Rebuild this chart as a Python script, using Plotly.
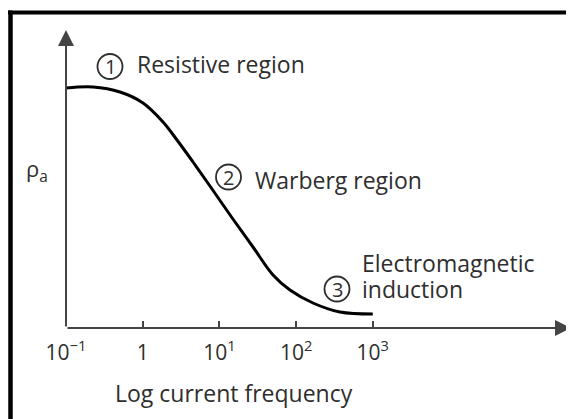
import plotly.graph_objects as go

# ---- data ----
freq = [0.1, 0.225, 0.506, 1.01, 1.84, 2.8, 4.53, 7.53, 15.0, 27.4, 50.0, 83.2, 166, 373, 1000]
rho_a = [240, 241, 236, 225, 206, 188, 166, 142, 109, 81, 53, 38, 25, 16, 14]

tick_vals = [0.1, 1, 10, 100, 1000]
tick_text = ["10<sup>\u22121</sup>", "1", "10<sup>1</sup>", "10<sup>2</sup>", "10<sup>3</sup>"]

x_title = "Log current frequency"
y_title = "\u03c1<sub>a</sub>"
region_digits = ["1", "2", "3"]
region_lines = [["Resistive region"], ["Warberg region"], ["Electromagnetic", "induction"]]

FONT = "Open Sans, Noto Sans, sans-serif"
TXT = "#2e2e2e"
AX = "#444444"

# page body has an 8px margin; positions below are given in reference-image pixels
OFF = 8
W, H = 574 - OFF, 419 - OFF
L, T = 66 - OFF, 30 - OFF
PLOT_R, PLOT_B = 571 - OFF, 328 - OFF
R, B = W - PLOT_R, H - PLOT_B
PW, PH = PLOT_R - L, PLOT_B - T
XMAX_LOG = 5.584
YMAX = 298


def px(x):
    return (x - OFF - L) / PW


def py(y):
    return (PLOT_B - (y - OFF)) / PH


fig = go.Figure()
fig.add_trace(go.Scatter(
    x=freq, y=rho_a, mode="lines",
    line=dict(color="black", width=3, shape="spline", smoothing=1.0),
    hoverinfo="skip", showlegend=False,
))

fig.update_layout(
    width=W, height=H,
    margin=dict(l=L, r=R, t=T, b=B, pad=0),
    paper_bgcolor="white", plot_bgcolor="white",
    showlegend=False,
    font=dict(family=FONT, color=TXT, size=18),
    xaxis=dict(
        type="log", range=[-1, XMAX_LOG],
        tickvals=tick_vals, ticktext=tick_text,
        ticks="inside", ticklen=7, tickwidth=1.5, tickcolor=AX,
        showline=False, showgrid=False, zeroline=False,
        tickfont=dict(size=21, color=TXT, family=FONT),
        ticklabelstandoff=10,
    ),
    yaxis=dict(
        range=[0, YMAX], showticklabels=False, ticks="",
        showline=False, showgrid=False, zeroline=False,
    ),
)

annotations = []
# axes with arrow heads
annotations.append(dict(x=XMAX_LOG, y=0, xref="x", yref="y", ax=-PW, ay=0,
                        showarrow=True, arrowhead=2, arrowsize=1.6, arrowwidth=2,
                        arrowcolor=AX, text=""))
annotations.append(dict(x=-1, y=YMAX, xref="x", yref="y", ax=0, ay=PH,
                        showarrow=True, arrowhead=2, arrowsize=1.6, arrowwidth=2,
                        arrowcolor=AX, text=""))
# axis titles
annotations.append(dict(x=px(37), y=py(170), xref="paper", yref="paper", text=y_title,
                        showarrow=False, font=dict(size=22, color=TXT, family=FONT),
                        xanchor="center", yanchor="middle"))
annotations.append(dict(x=px(113), y=py(393), xref="paper", yref="paper", text=x_title,
                        showarrow=False, font=dict(size=23, color=TXT, family=FONT),
                        xanchor="left", yanchor="middle"))

circ_pos = [(110, 66.5), (228.5, 177), (337, 289)]
text_pos = [[(135, 64)], [(253, 180)], [(360, 263), (360, 289)]]
RAD = 12.5
for d, (cx, cy) in zip(region_digits, circ_pos):
    annotations.append(dict(x=px(cx), y=py(cy + 0.5), xref="paper", yref="paper", text=d,
                            showarrow=False, font=dict(size=20, color=TXT, family=FONT),
                            xanchor="center", yanchor="middle"))
    fig.add_shape(type="circle", xref="paper", yref="paper",
                  x0=px(cx - RAD), x1=px(cx + RAD), y0=py(cy + RAD), y1=py(cy - RAD),
                  line=dict(color=TXT, width=1.8))
for lines, poss in zip(region_lines, text_pos):
    for t, (tx, ty) in zip(lines, poss):
        annotations.append(dict(x=px(tx), y=py(ty), xref="paper", yref="paper", text=t,
                                showarrow=False, align="left",
                                font=dict(size=23, color=TXT, family=FONT),
                                xanchor="left", yanchor="middle"))
fig.update_layout(annotations=annotations)

# frame lines at top and left
fig.add_shape(type="line", xref="paper", yref="paper", x0=px(8), x1=px(574), y0=py(12.5), y1=py(12.5),
              line=dict(color="black", width=4))
fig.add_shape(type="line", xref="paper", yref="paper", x0=px(10.5), x1=px(10.5), y0=py(10.5), y1=py(419),
              line=dict(color="black", width=4.5))

fig.write_html("out.html")
